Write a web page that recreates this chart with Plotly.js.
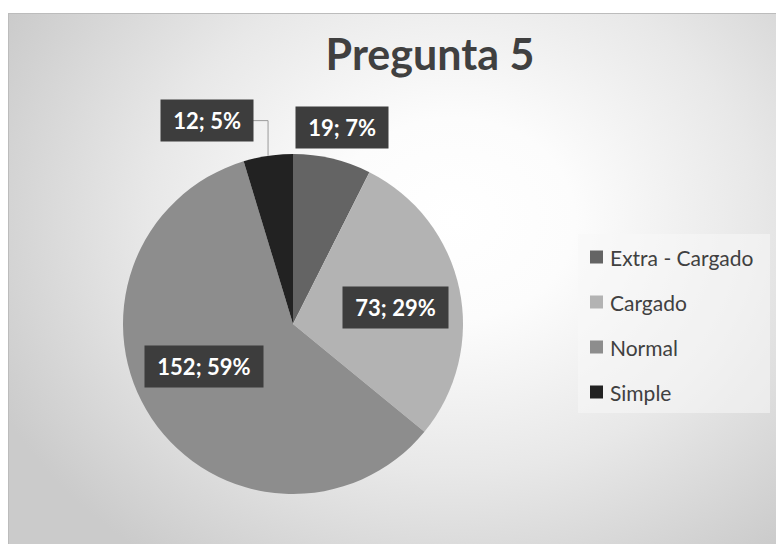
<!DOCTYPE html>
<html>
<head>
<meta charset="utf-8">
<script src="https://cdn.plot.ly/plotly-3.0.1.min.js"></script>
<style>
  html, body { margin: 0; padding: 0; background: #ffffff; }
  #wrap { position: relative; width: 776px; height: 544px; overflow: hidden; }
  #bg { position: absolute; left: 8px; top: 13px; width: 780px; height: 540px;
        border-top: 1px solid #bcbcbc; border-left: 1px solid #bcbcbc;
        background: radial-gradient(ellipse 65% 78% at 57% 38%, #ffffff 0%, #fcfcfc 24%, #e8e8e8 60%, #cbcbcb 100%); }
  #chart { position: absolute; left: 0; top: 0; width: 776px; height: 544px; }
</style>
</head>
<body>
<div id="wrap"><div id="bg"></div><div id="chart"></div></div>
<script>
const categories = ['Extra - Cargado', 'Cargado', 'Normal', 'Simple'];
const counts = [19, 73, 152, 12];
const sliceColors = ['#646464', '#b3b3b3', '#8d8d8d', '#222222'];
const chartTitle = 'Pregunta 5';

// ---- styling / geometry constants (pixels) ----
const W = 776, H = 544;
const pieBox = {x0: 123, x1: 463, y0: 154, y1: 494};
const labelRadius = [1.19, 0.61, 0.58, 1.3];     // label distance as fraction of radius
const labelAngleShift = [0.8, 2.6, 8.3, -14.6]; // degrees
const FONT = 'Lato, "Open Sans", sans-serif';

const px = x => x / W;
const py = y => 1 - y / H;

const total = counts.reduce((a, b) => a + b, 0);
const cx = (pieBox.x0 + pieBox.x1) / 2, cy = (pieBox.y0 + pieBox.y1) / 2;
const R = (pieBox.x1 - pieBox.x0) / 2;

const trace = {
  type: 'pie',
  labels: categories,
  values: counts,
  sort: false,
  direction: 'clockwise',
  rotation: 0,
  marker: {colors: sliceColors, line: {width: 0}},
  textinfo: 'none',
  hoverinfo: 'label+value+percent',
  domain: {x: [px(pieBox.x0), px(pieBox.x1)], y: [py(pieBox.y1), py(pieBox.y0)]},
  showlegend: false
};

const annotations = [];
const shapes = [];

// data labels
let cum = 0;
counts.forEach((v, i) => {
  const midFrac = (cum + v / 2) / total;
  cum += v;
  const mid = midFrac * 360;
  const ang = (mid + labelAngleShift[i]) * Math.PI / 180;
  const lx = cx + labelRadius[i] * R * Math.sin(ang);
  const ly = cy - labelRadius[i] * R * Math.cos(ang);
  const pct = Math.round(v / total * 100);
  annotations.push({
    xref: 'paper', yref: 'paper', x: px(lx), y: py(ly),
    xanchor: 'center', yanchor: 'middle', showarrow: false,
    text: '<b>\u00a0' + v + '; ' + pct + '%\u00a0</b>',
    font: {family: FONT, size: 22, color: '#ffffff'},
    bgcolor: '#3d3d3d', borderpad: 7
  });
  if (labelRadius[i] > 1.25) {
    // elbow leader line from box edge to slice edge
    const mr = mid * Math.PI / 180;
    const ex = cx + R * Math.sin(mr), ey = cy - R * Math.cos(mr);
    const boxEdge = lx + 45;
    shapes.push({
      type: 'path', xref: 'paper', yref: 'paper',
      path: `M ${px(boxEdge)} ${py(ly)} L ${px(ex)} ${py(ly)} L ${px(ex)} ${py(ey)}`,
      line: {color: '#9a9a9a', width: 1}
    });
  }
});

// legend (manual, to match spacing)
const legX = 590, legY0 = 257, legStep = 45, sq = 13;
shapes.push({
  type: 'rect', xref: 'paper', yref: 'paper',
  x0: px(578), x1: px(770), y0: py(413), y1: py(234),
  fillcolor: 'rgba(248,248,248,0.55)', line: {width: 0}, layer: 'below'
});
categories.forEach((c, i) => {
  const yy = legY0 + i * legStep;
  shapes.push({
    type: 'rect', xref: 'paper', yref: 'paper',
    x0: px(legX), x1: px(legX + sq), y0: py(yy + sq / 2), y1: py(yy - sq / 2),
    fillcolor: sliceColors[i], line: {width: 0}
  });
  annotations.push({
    xref: 'paper', yref: 'paper', x: px(legX + sq + 5), y: py(yy),
    xanchor: 'left', yanchor: 'middle', showarrow: false,
    text: c, font: {family: FONT, size: 21, color: '#404040'}
  });
});

const layout = {
  width: W, height: H,
  margin: {l: 0, r: 0, t: 0, b: 0},
  paper_bgcolor: 'rgba(0,0,0,0)',
  plot_bgcolor: 'rgba(0,0,0,0)',
  showlegend: false,
  title: {
    text: '<b>' + chartTitle + '</b>',
    font: {family: FONT, size: 43, color: '#404040'},
    x: px(430), xanchor: 'center', xref: 'paper',
    y: py(55), yanchor: 'middle', yref: 'paper'
  },
  annotations: annotations,
  shapes: shapes
};

Plotly.newPlot('chart', [trace], layout, {displayModeBar: false, staticPlot: true});
</script>
</body>
</html>
